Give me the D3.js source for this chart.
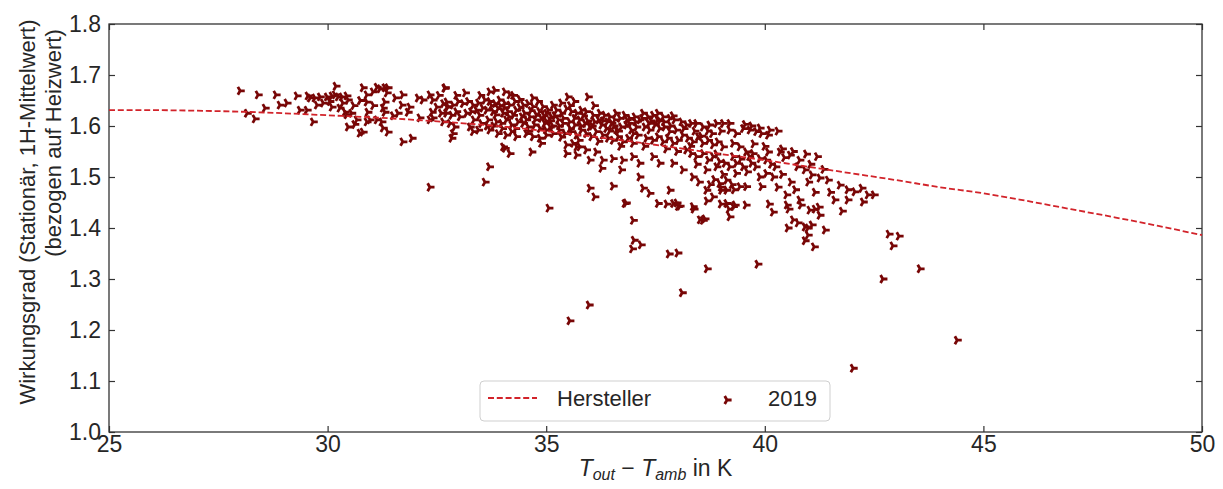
<!DOCTYPE html>
<html>
<head>
<meta charset="utf-8">
<script src="https://cdn.jsdelivr.net/npm/d3@7"></script>
<style>
body { margin: 0; background: #fff; }
text { font-family: "Liberation Sans", Arial, sans-serif; fill: #262626; }
</style>
</head>
<body>
<div id="chart"></div>
<script>
// tick values
const xTicks = [25, 30, 35, 40, 45, 50];
const yTicks = [1.0, 1.1, 1.2, 1.3, 1.4, 1.5, 1.6, 1.7, 1.8];

// manufacturer curve (Hersteller)
const herstellerT = [25, 26, 27, 28, 29, 30, 31, 32, 33, 34, 35, 36, 37, 38, 39, 40, 41, 42, 43, 44, 45, 46, 47, 48, 49, 50];
const herstellerEta = [1.631, 1.631, 1.630, 1.628, 1.625, 1.621, 1.617, 1.612, 1.606, 1.599, 1.590, 1.580, 1.569, 1.557, 1.545, 1.533, 1.520, 1.507, 1.494, 1.480, 1.468, 1.453, 1.437, 1.421, 1.404, 1.386];

// measured points 2019 [T_out - T_amb, efficiency]
const messung2019 = [
  [28.00,1.669],[28.41,1.661],[28.82,1.661],[29.07,1.645],[28.91,1.641],[29.30,1.659],[28.57,1.635],[28.16,1.625],
  [28.34,1.614],[29.55,1.659],[29.60,1.655],[29.71,1.655],[29.83,1.657],[29.99,1.657],[30.10,1.659],[30.17,1.661],
  [30.24,1.657],[30.33,1.657],[30.19,1.678],[30.44,1.659],[30.47,1.651],[29.37,1.631],[29.53,1.631],[29.67,1.608],
  [29.76,1.641],[30.10,1.637],[30.28,1.635],[30.40,1.627],[30.44,1.622],[30.47,1.598],[30.67,1.612],[30.81,1.675],
  [30.90,1.661],[31.04,1.667],[31.13,1.676],[31.20,1.673],[31.31,1.675],[31.38,1.675],[31.36,1.665],[31.31,1.647],
  [31.27,1.635],[31.31,1.627],[30.90,1.647],[30.92,1.627],[30.97,1.612],[30.90,1.608],[30.74,1.586],[30.81,1.588],
  [31.13,1.612],[31.24,1.608],[31.27,1.596],[31.38,1.588],[31.72,1.661],[31.70,1.641],[31.88,1.637],[32.07,1.655],
  [32.18,1.651],[32.34,1.661],[32.41,1.651],[32.50,1.637],[32.39,1.627],[31.61,1.625],[31.84,1.627],[31.72,1.569],
  [31.93,1.576],[32.11,1.616],[32.34,1.612],[32.69,1.675],[32.73,1.647],[32.73,1.637],[32.41,1.616],[32.34,1.480],
  [30.05,1.648],[30.35,1.645],[30.60,1.640],[30.55,1.625],[30.75,1.650],[29.90,1.645],[30.62,1.603],[31.05,1.640],
  [31.50,1.620],[31.55,1.655],
  [32.68,1.674],[33.71,1.667],[33.83,1.670],[34.06,1.667],[34.17,1.661],[35.50,1.657],[35.96,1.657],
  [32.65,1.644],[32.76,1.638],[32.87,1.641],[32.99,1.648],[33.10,1.644],[33.22,1.648],[33.33,1.641],[32.72,1.625],
  [32.84,1.621],[32.95,1.628],[33.03,1.618],[33.18,1.625],[33.29,1.628],[33.41,1.631],[33.48,1.621],[32.65,1.608],
  [32.80,1.605],[32.91,1.598],[33.26,1.598],[33.33,1.589],[33.45,1.592],[33.52,1.605],[32.87,1.585],[32.84,1.576],
  [33.60,1.651],[33.71,1.648],[33.83,1.644],[33.94,1.651],[34.06,1.644],[34.17,1.641],[34.29,1.648],[33.64,1.631],
  [33.79,1.628],[33.90,1.634],[34.02,1.625],[34.13,1.628],[34.25,1.621],[34.32,1.631],[33.68,1.612],[33.87,1.608],
  [33.98,1.605],[34.09,1.612],[34.21,1.602],[34.36,1.608],[33.71,1.592],[33.90,1.585],[34.09,1.582],[34.21,1.589],
  [34.32,1.579],[34.02,1.559],[34.17,1.546],[33.70,1.520],[33.60,1.490],[34.06,1.556],
  [34.48,1.641],[34.59,1.644],[34.70,1.638],[34.82,1.648],[34.93,1.638],[35.05,1.631],[35.16,1.641],[34.51,1.625],
  [34.63,1.618],[34.78,1.621],[34.89,1.615],[35.01,1.625],[35.12,1.618],[34.48,1.605],[34.59,1.598],[34.74,1.602],
  [34.86,1.595],[34.97,1.605],[35.09,1.598],[34.55,1.585],[34.70,1.579],[34.86,1.576],[35.01,1.582],[35.16,1.585],
  [34.67,1.549],[34.89,1.566],
  [35.24,1.631],[35.35,1.625],[35.47,1.634],[35.58,1.628],[35.70,1.625],[35.81,1.631],[35.92,1.628],[36.08,1.621],
  [35.28,1.612],[35.39,1.605],[35.54,1.608],[35.66,1.602],[35.77,1.612],[35.89,1.605],[36.00,1.598],[36.11,1.608],
  [35.31,1.592],[35.43,1.585],[35.58,1.589],[35.70,1.582],[35.81,1.592],[35.92,1.585],[36.04,1.579],[36.15,1.589],
  [35.47,1.563],[35.62,1.566],[35.77,1.559],[35.92,1.553],[35.70,1.543],[35.47,1.546],[36.15,1.549],[36.00,1.533],
  [35.70,1.559],[36.30,1.533],
  [36.23,1.625],[36.34,1.621],[36.46,1.618],[36.57,1.612],[36.69,1.615],[36.80,1.621],[36.91,1.615],[37.03,1.618],
  [37.14,1.612],[36.27,1.602],[36.38,1.595],[36.50,1.605],[36.61,1.592],[36.72,1.598],[36.84,1.602],[36.95,1.592],
  [37.07,1.598],[36.30,1.582],[36.42,1.576],[36.53,1.572],[36.65,1.579],[36.76,1.569],[36.88,1.576],[36.99,1.566],
  [37.10,1.582],[36.53,1.536],[36.76,1.533],[36.99,1.540],[36.27,1.517],[36.72,1.514],[37.14,1.527],[37.14,1.500],
  [36.00,1.478],[36.11,1.461],[36.53,1.482],[36.80,1.448],[36.99,1.415],
  [37.22,1.625],[37.33,1.618],[37.45,1.621],[37.56,1.625],[37.68,1.618],[37.83,1.615],[37.94,1.612],[37.26,1.598],
  [37.37,1.592],[37.49,1.602],[37.60,1.595],[37.71,1.598],[37.83,1.589],[37.98,1.592],[37.30,1.576],[37.45,1.572],
  [37.56,1.579],[37.68,1.569],[37.79,1.576],[37.91,1.566],[38.02,1.572],[37.45,1.540],[37.60,1.527],[37.91,1.527],
  [37.37,1.468],[37.22,1.478],[37.56,1.448],[37.83,1.474],[37.91,1.448],[38.02,1.442],
  [38.10,1.608],[38.21,1.602],[38.32,1.605],[38.44,1.605],[38.59,1.598],[38.74,1.602],[38.90,1.605],[39.05,1.605],
  [39.20,1.605],[38.13,1.582],[38.25,1.576],[38.36,1.569],[38.48,1.579],[38.59,1.566],[38.71,1.572],[38.82,1.563],
  [38.93,1.569],[39.05,1.559],[38.21,1.553],[38.32,1.546],[38.44,1.540],[38.59,1.546],[38.71,1.533],[38.82,1.540],
  [38.97,1.530],[39.09,1.527],[38.13,1.514],[38.36,1.500],[38.67,1.514],[38.90,1.520],[38.97,1.487],[39.13,1.494],
  [39.01,1.474],[39.13,1.474],[39.28,1.540],[38.67,1.474],[38.82,1.461],[38.36,1.442],[38.59,1.415],[39.13,1.448],
  [39.28,1.442],[39.20,1.422],
  [39.20,1.592],[39.35,1.585],[39.51,1.595],[39.66,1.592],[39.81,1.589],[39.93,1.585],[40.08,1.582],[39.28,1.566],
  [39.43,1.559],[39.58,1.549],[39.73,1.546],[39.89,1.536],[40.04,1.533],[39.35,1.527],[39.51,1.520],[39.70,1.527],
  [39.89,1.500],[40.04,1.507],[39.43,1.481],[39.58,1.481],[39.93,1.481],[39.35,1.507],[40.08,1.549],
  [33.45,1.645],[33.55,1.635],[33.75,1.640],[33.85,1.622],[33.95,1.640],[34.05,1.636],[34.15,1.618],[34.40,1.636],
  [34.45,1.618],[34.55,1.612],[34.65,1.630],[34.85,1.628],[34.95,1.620],[35.10,1.610],[35.20,1.620],[35.30,1.600],
  [35.40,1.615],[35.55,1.595],[35.65,1.615],[35.85,1.620],[35.95,1.610],[36.05,1.600],[36.20,1.612],[36.40,1.608],
  [36.55,1.600],[36.65,1.590],[36.85,1.612],[37.05,1.608],[37.20,1.615],[37.40,1.610],[37.55,1.612],[37.70,1.608],
  [37.85,1.600],[34.30,1.595],[34.60,1.590],[35.00,1.592],[35.35,1.578],[35.75,1.572],[36.20,1.570],[36.70,1.560],
  [37.25,1.560],[37.75,1.555],[38.00,1.550],[38.30,1.560],[38.55,1.580],[38.80,1.585],[39.00,1.590],[38.45,1.525],
  [38.90,1.545],[39.20,1.520],[39.60,1.510],[39.75,1.565],[40.00,1.560],
  [33.35,1.612],[33.50,1.660],[33.65,1.600],[33.80,1.600],[34.00,1.595],[34.25,1.660],[34.40,1.652],[34.70,1.655],
  [34.75,1.612],[35.00,1.610],[35.15,1.600],[35.35,1.645],[35.55,1.640],[35.65,1.648],[35.80,1.600],[36.10,1.640],
  [36.30,1.610],[36.45,1.590],[36.60,1.625],[36.90,1.605],[37.00,1.585],[37.35,1.605],[37.60,1.610],[37.90,1.620],
  [38.15,1.595],[38.40,1.590],[38.70,1.590],[38.85,1.495],[39.00,1.480],[39.05,1.505],[39.25,1.485],[39.30,1.475],
  [38.75,1.485],[38.50,1.490],[39.45,1.535],[39.65,1.540],[39.80,1.520],[40.15,1.525],[40.40,1.555],[40.65,1.550],
  [32.95,1.660],[33.15,1.665],[32.55,1.660],[32.60,1.625],
  [39.89,1.596],[40.12,1.592],[39.70,1.600],[39.55,1.603],[40.30,1.590],[40.35,1.549],[40.58,1.543],[40.45,1.538],
  [40.80,1.533],[40.92,1.514],[41.08,1.504],[41.26,1.498],[41.45,1.494],[41.72,1.484],[41.90,1.475],[42.06,1.471],
  [42.22,1.478],[42.36,1.465],[42.50,1.465],[41.90,1.455],[40.80,1.455],[41.03,1.435],[41.26,1.425],[41.08,1.406],
  [41.38,1.396],[40.99,1.386],[40.25,1.520],[40.40,1.505],[40.60,1.490],[40.70,1.475],[40.30,1.480],[40.50,1.465],
  [41.00,1.490],[41.15,1.470],[41.50,1.470],[41.60,1.455],[41.35,1.515],[41.05,1.525],[40.75,1.520],[40.20,1.500],
  [40.95,1.545],[41.20,1.540],
  [36.83,1.449],[37.76,1.447],[37.99,1.449],[38.06,1.443],[38.38,1.437],[38.68,1.453],[38.52,1.416],[38.63,1.418],
  [39.00,1.447],[39.18,1.437],[39.32,1.445],[39.57,1.445],[40.10,1.447],[40.19,1.431],[40.51,1.445],[40.55,1.437],
  [40.83,1.445],[41.15,1.437],[41.24,1.441],[41.77,1.433],[42.25,1.451],[40.65,1.416],[40.76,1.410],[40.53,1.400],
  [40.92,1.402],[40.99,1.400],[40.92,1.375],[41.13,1.363],
  [35.06,1.439],[37.01,1.376],[37.17,1.367],[36.97,1.359],[37.81,1.349],[38.01,1.351],[38.68,1.320],[39.84,1.329],
  [38.11,1.273],[35.98,1.249],[35.54,1.218],[42.84,1.388],[43.07,1.384],[42.93,1.365],[42.70,1.300],[43.55,1.320],
  [44.40,1.180],[42.02,1.125]
];

const W = 1223, H = 489;
const pLeft = 109, pRight = 1202, pTop = 24, pBottom = 432;

const svg = d3.select('#chart').append('svg')
  .attr('width', W)
  .attr('height', H);

const x = d3.scaleLinear().domain([25, 50]).range([pLeft, pRight]);
const y = d3.scaleLinear().domain([1.0, 1.8]).range([pBottom, pTop]);

// axes, ticks pointing inward
const gx = svg.append('g').attr('transform', 'translate(0,' + pBottom + ')')
  .call(d3.axisBottom(x).tickValues(xTicks).tickSizeInner(-6).tickSizeOuter(0).tickPadding(4).tickFormat(d3.format('d')));
const gy = svg.append('g').attr('transform', 'translate(' + pLeft + ',0)')
  .call(d3.axisLeft(y).tickValues(yTicks).tickSizeInner(-6).tickSizeOuter(0).tickPadding(8).tickFormat(d3.format('.1f')));
const gt = svg.append('g').attr('transform', 'translate(0,' + pTop + ')')
  .call(d3.axisTop(x).tickValues(xTicks).tickSizeInner(-6).tickSizeOuter(0).tickFormat(''));
const gr = svg.append('g').attr('transform', 'translate(' + pRight + ',0)')
  .call(d3.axisRight(y).tickValues(yTicks).tickSizeInner(-6).tickSizeOuter(0).tickFormat(''));

[gx, gy, gt, gr].forEach(g => {
  g.select('.domain').remove();
  g.selectAll('.tick line').attr('stroke', '#333').attr('stroke-width', 1.2);
  g.selectAll('.tick text').attr('font-size', 23).attr('font-family', '"Liberation Sans", Arial, sans-serif').attr('fill', '#262626');
});

// frame
svg.append('rect')
  .attr('x', pLeft).attr('y', pTop)
  .attr('width', pRight - pLeft).attr('height', pBottom - pTop)
  .attr('fill', 'none').attr('stroke', '#333').attr('stroke-width', 1.3);

// scatter markers (tri_right)
const r = 4.6;
function tri(cx, cy) {
  return 'M' + cx + ',' + cy + 'L' + (cx + r) + ',' + cy +
    'M' + cx + ',' + cy + 'L' + (cx - r / 2) + ',' + (cy - r * 0.866) +
    'M' + cx + ',' + cy + 'L' + (cx - r / 2) + ',' + (cy + r * 0.866);
}
const markerColor = '#780606';

svg.append('g').selectAll('path')
  .data(messung2019)
  .enter().append('path')
  .attr('d', d => tri(x(d[0]), y(d[1])))
  .attr('stroke', markerColor)
  .attr('stroke-width', 2.8)
  .attr('fill', 'none');

// Hersteller curve
const lineColor = '#d2232a';
const line = d3.line()
  .x((d, i) => x(herstellerT[i]))
  .y(d => y(d))
  .curve(d3.curveMonotoneX);

svg.append('path')
  .datum(herstellerEta)
  .attr('d', line)
  .attr('fill', 'none')
  .attr('stroke', lineColor)
  .attr('stroke-width', 1.8)
  .attr('stroke-dasharray', '6,2.8');

// legend
const lg = svg.append('g');
lg.append('rect')
  .attr('x', 480).attr('y', 381).attr('width', 350).attr('height', 40)
  .attr('rx', 4).attr('fill', '#fff').attr('fill-opacity', 0.85)
  .attr('stroke', '#cfcfcf').attr('stroke-width', 1);
lg.append('line')
  .attr('x1', 488).attr('x2', 537).attr('y1', 398).attr('y2', 398)
  .attr('stroke', lineColor).attr('stroke-width', 1.8).attr('stroke-dasharray', '6,2.8');
lg.append('text').attr('x', 557).attr('y', 406).attr('font-size', 22).text('Hersteller');
lg.append('path').attr('d', tri(727, 400)).attr('stroke', markerColor).attr('stroke-width', 2.8).attr('fill', 'none');
lg.append('text').attr('x', 768).attr('y', 406).attr('font-size', 22).text('2019');

// axis labels
const yl = svg.append('g').attr('font-size', 22);
yl.append('text')
  .attr('transform', 'translate(35,212) rotate(-90)')
  .attr('text-anchor', 'middle')
  .text('Wirkungsgrad (Stationär, 1H-Mittelwert)');
yl.append('text')
  .attr('transform', 'translate(61,143) rotate(-90)')
  .attr('text-anchor', 'middle')
  .text('(bezogen auf Heizwert)');

const xl = svg.append('text')
  .attr('x', (pLeft + pRight) / 2).attr('y', 476)
  .attr('text-anchor', 'middle')
  .attr('font-size', 23);
xl.append('tspan').attr('font-style', 'italic').text('T');
xl.append('tspan').attr('font-style', 'italic').attr('font-size', 16).attr('dy', 4).text('out');
xl.append('tspan').attr('dy', -4).text(' \u2212 ');
xl.append('tspan').attr('font-style', 'italic').text('T');
xl.append('tspan').attr('font-style', 'italic').attr('font-size', 16).attr('dy', 4).text('amb');
xl.append('tspan').attr('dy', -4).text(' in K');
</script>
</body>
</html>
